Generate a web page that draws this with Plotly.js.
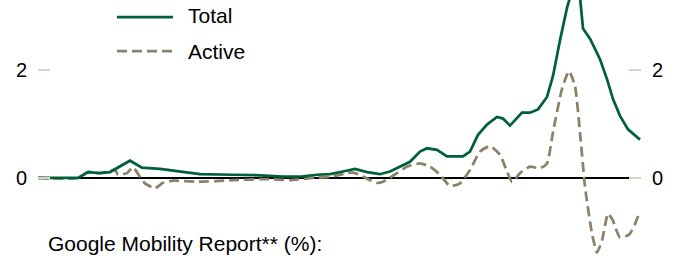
<!DOCTYPE html>
<html>
<head>
<meta charset="utf-8">
<script src="https://cdn.plot.ly/plotly-3.0.1.min.js"></script>
<style>
html,body{margin:0;padding:0;background:#fff;}
#chart{width:686px;height:259px;}
</style>
</head>
<body>
<div id="chart"></div>
<script>
// Day index along the period shown
var totalX = [0,40,50,62,72,80,92,104,122,137,152,162,195,222,245,265,279,292,305,317,329,342,352,359,372,382,389,399,409,425,432,440,449,459,465,472,484,492,500,509,515,522,529,536,542,545,552,562,569,575,582,590,594,602];
var totalY = [0,0,0.11,0.09,0.11,0.2,0.32,0.19,0.17,0.13,0.1,0.07,0.06,0.05,0.025,0.03,0.06,0.07,0.12,0.17,0.11,0.07,0.12,0.18,0.3,0.49,0.55,0.52,0.4,0.4,0.49,0.8,0.99,1.13,1.1,0.97,1.21,1.21,1.27,1.5,1.89,2.55,3.15,3.6,3.35,2.77,2.58,2.2,1.83,1.46,1.15,0.9,0.84,0.71];

var activeX = [0,40,50,62,77,80,89,95,102,107,117,125,135,159,195,229,252,279,292,309,315,322,332,339,345,359,369,382,392,402,412,422,432,442,452,462,469,474,482,492,502,509,515,524,531,537,542,547,554,559,564,570,575,577,582,589,592,597,602];
var activeY = [0,0,0.11,0.09,0.15,0.06,0.09,0.2,0.02,-0.1,-0.19,-0.09,-0.05,-0.07,-0.04,-0.02,-0.04,0.01,0.02,0.09,0.1,0.06,-0.04,-0.09,-0.07,0.09,0.21,0.27,0.21,0.06,-0.15,-0.1,0.15,0.49,0.59,0.43,0.12,-0.07,0.09,0.21,0.18,0.27,0.85,1.65,1.98,1.7,0.84,-0.16,-1.03,-1.38,-1.16,-0.66,-0.79,-0.9,-1.1,-1.07,-1.03,-0.85,-0.62];

var seriesNames = ["Total", "Active"];
var tickVals = [0, 2];
var tickText = ["0", "2"];
var panelTitle = "Google Mobility Report** (%):";

var GREEN = "#00603a";
var TAN = "#8c8268";
var TICK = "#d6d1c0";
var FONT = "Liberation Sans, Arial, sans-serif";

var W = 686, H = 259, L = 38, R = 45;
var PW = W - L - R;
function px(x){ return (x - L) / PW; }
function py(y){ return (H - y) / H; }

var traces = [
  {x: activeX, y: activeY, name: seriesNames[1], mode: "lines",
   line: {color: TAN, width: 2.75, dash: "10px,5px", shape: "spline", smoothing: 0.5}, hoverinfo: "skip"},
  {x: totalX, y: totalY, name: seriesNames[0], mode: "lines",
   line: {color: GREEN, width: 2.75}, hoverinfo: "skip"},
  {x: [0], y: [null], yaxis: "y2", showlegend: false, hoverinfo: "skip"}
];

var yRange = [-1.5, 3.296];
var yCommon = {
  range: yRange, tickvals: tickVals, ticktext: tickText,
  ticks: "inside", ticklen: 12, tickwidth: 1.5, tickcolor: TICK,
  showgrid: false, showline: false, fixedrange: true,
  tickfont: {family: FONT, size: 20, color: "#000"},
  ticklabelstandoff: 10
};

var layout = {
  width: W, height: H,
  margin: {l: L, r: R, t: 0, b: 0, pad: 0},
  paper_bgcolor: "#fff", plot_bgcolor: "#fff",
  showlegend: false,
  xaxis: {range: [0, 603], visible: false, fixedrange: true},
  yaxis: Object.assign({}, yCommon, {zeroline: true, zerolinecolor: "#000", zerolinewidth: 2}),
  yaxis2: Object.assign({}, yCommon, {overlaying: "y", side: "right", zeroline: false}),
  shapes: [
    {type: "line", xref: "paper", yref: "paper", x0: px(117), x1: px(173), y0: py(17), y1: py(17),
     line: {color: GREEN, width: 2.75}},
    {type: "line", xref: "paper", yref: "paper", x0: px(117), x1: px(173), y0: py(51), y1: py(51),
     line: {color: TAN, width: 2.75, dash: "10px,5px"}}
  ],
  annotations: [
    {text: seriesNames[0], xref: "paper", yref: "paper", x: px(186), y: py(16), xanchor: "left", yanchor: "middle",
     showarrow: false, font: {family: FONT, size: 21, color: "#000"}},
    {text: seriesNames[1], xref: "paper", yref: "paper", x: px(186), y: py(51), xanchor: "left", yanchor: "middle",
     showarrow: false, font: {family: FONT, size: 21, color: "#000"}},
    {text: panelTitle, xref: "paper", yref: "paper", x: px(46), y: py(243), xanchor: "left", yanchor: "middle",
     showarrow: false, font: {family: FONT, size: 21, color: "#000"}}
  ]
};

Plotly.newPlot("chart", traces, layout, {displayModeBar: false, staticPlot: true});
</script>
</body>
</html>
